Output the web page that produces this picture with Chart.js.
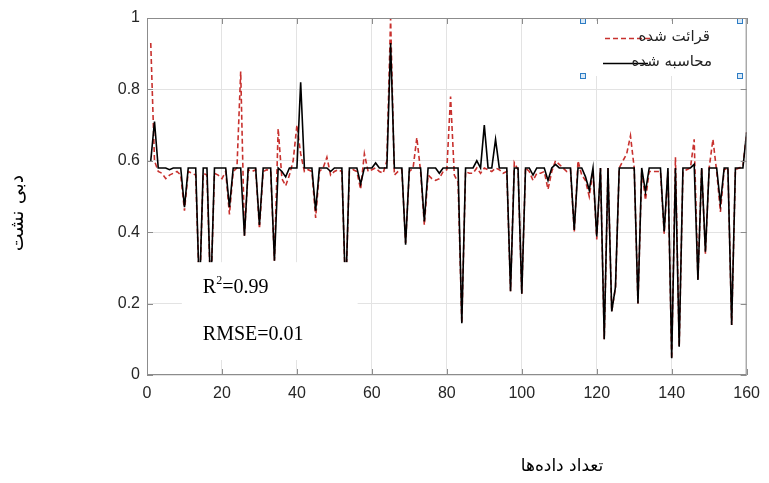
<!DOCTYPE html>
<html>
<head>
<meta charset="utf-8">
<script src="https://cdn.jsdelivr.net/npm/chart.js@4.4.1/dist/chart.umd.min.js"></script>
<style>
  html, body { margin: 0; padding: 0; background: #fff; }
  canvas { display: block; }
</style>
</head>
<body>
<canvas id="chart" width="769" height="483"></canvas>
<script>
// sample number (x) for each reading
const sampleNo = Array.from({ length: 160 }, (_, i) => i + 1);

const measured = [
  0.93, 0.60, 0.57, 0.565, 0.55, 0.56, 0.565, 0.57, 0.56, 0.46,
  0.57, 0.565, 0.56, 0.22, 0.565, 0.56, 0.22, 0.565, 0.56, 0.55,
  0.57, 0.45, 0.57, 0.58, 0.85, 0.39, 0.575, 0.57, 0.575, 0.41,
  0.57, 0.575, 0.57, 0.32, 0.69, 0.55, 0.53, 0.56, 0.60, 0.70,
  0.62, 0.57, 0.575, 0.57, 0.44, 0.57, 0.58, 0.61, 0.56, 0.57,
  0.575, 0.57, 0.22, 0.57, 0.575, 0.57, 0.52, 0.62, 0.57, 0.575,
  0.58, 0.57, 0.565, 0.60, 1.0, 0.56, 0.57, 0.575, 0.37, 0.57,
  0.58, 0.665, 0.57, 0.42, 0.56, 0.55, 0.545, 0.55, 0.57, 0.575,
  0.78, 0.56, 0.54, 0.145, 0.57, 0.565, 0.565, 0.58, 0.565, 0.58,
  0.575, 0.57, 0.58, 0.575, 0.565, 0.57, 0.235, 0.595, 0.575, 0.228,
  0.58, 0.57, 0.545, 0.565, 0.565, 0.57, 0.52, 0.57, 0.60, 0.59,
  0.58, 0.57, 0.575, 0.40, 0.60, 0.56, 0.545, 0.50, 0.57, 0.38,
  0.58, 0.10, 0.58, 0.178, 0.245, 0.58, 0.60, 0.62, 0.67, 0.58,
  0.20, 0.575, 0.49, 0.57, 0.57, 0.57, 0.57, 0.396, 0.57, 0.045,
  0.61, 0.079, 0.57, 0.575, 0.58, 0.66, 0.266, 0.58, 0.34, 0.58,
  0.66, 0.57, 0.457, 0.575, 0.58, 0.14, 0.575, 0.58, 0.585, 0.68
];

// calculated values (black solid)
const calculated = [
  0.60, 0.71, 0.58, 0.58, 0.58, 0.575, 0.58, 0.58, 0.58, 0.47,
  0.58, 0.58, 0.58, 0.22, 0.58, 0.58, 0.22, 0.58, 0.58, 0.58,
  0.58, 0.47, 0.58, 0.58, 0.58, 0.39, 0.58, 0.58, 0.58, 0.42,
  0.58, 0.58, 0.58, 0.32, 0.58, 0.57, 0.555, 0.58, 0.58, 0.58,
  0.82, 0.58, 0.58, 0.58, 0.46, 0.58, 0.58, 0.58, 0.57, 0.58,
  0.58, 0.58, 0.22, 0.58, 0.58, 0.58, 0.535, 0.58, 0.58, 0.58,
  0.594, 0.58, 0.58, 0.58, 0.93, 0.58, 0.58, 0.58, 0.365, 0.58,
  0.58, 0.58, 0.58, 0.43, 0.58, 0.58, 0.58, 0.565, 0.58, 0.58,
  0.58, 0.58, 0.58, 0.145, 0.58, 0.58, 0.58, 0.60, 0.58, 0.70,
  0.58, 0.58, 0.66, 0.58, 0.58, 0.58, 0.235, 0.58, 0.58, 0.228,
  0.58, 0.58, 0.56, 0.58, 0.58, 0.58, 0.545, 0.58, 0.59, 0.58,
  0.58, 0.58, 0.58, 0.406, 0.58, 0.58, 0.555, 0.518, 0.58, 0.388,
  0.58, 0.10, 0.58, 0.178, 0.247, 0.58, 0.58, 0.58, 0.58, 0.58,
  0.20, 0.58, 0.513, 0.58, 0.58, 0.58, 0.58, 0.402, 0.58, 0.047,
  0.58, 0.079, 0.58, 0.58, 0.58, 0.59, 0.266, 0.58, 0.345, 0.58,
  0.58, 0.58, 0.48, 0.58, 0.58, 0.14, 0.58, 0.58, 0.58, 0.68
];

const xTicks = [0, 20, 40, 60, 80, 100, 120, 140, 160];
const yTicks = [0, 0.2, 0.4, 0.6, 0.8, 1];

const seriesNames = ['محاسبه شده', 'قرائت شده'];
const xTitle = 'تعداد داده‌ها';
const yTitle = 'دبی نشت';
const statsLines = ['R', '2', '=0.99', 'RMSE=0.01'];

const axisGray = '#8c8c8c';
const redDash = '#c8312e';
const persianFont = '"DejaVu Sans", sans-serif';

// white text box, legend box, axis box, inside ticks and axis titles
const overlay = {
  id: 'overlay',
  afterDatasetsDraw(chart) {
    const { ctx, chartArea: a, scales: { x, y } } = chart;
    ctx.save();

    // stats box covering the lower-left part of the plot
    const bx0 = x.getPixelForValue(9.3), bx1 = x.getPixelForValue(56.2);
    const by0 = y.getPixelForValue(0.316), by1 = y.getPixelForValue(0.042);
    ctx.fillStyle = '#fff';
    ctx.fillRect(bx0, by0, bx1 - bx0, by1 - by0);

    ctx.fillStyle = '#000';
    ctx.textBaseline = 'alphabetic';
    ctx.textAlign = 'left';
    ctx.font = '20px "Liberation Serif", serif';
    let tx = bx0 + 21, ty = by0 + 31;
    ctx.fillText(statsLines[0], tx, ty);
    tx += ctx.measureText(statsLines[0]).width;
    ctx.font = '12px "Liberation Serif", serif';
    ctx.fillText(statsLines[1], tx, ty - 9);
    tx += ctx.measureText(statsLines[1]).width;
    ctx.font = '20px "Liberation Serif", serif';
    ctx.fillText(statsLines[2], tx, ty);
    ctx.fillText(statsLines[3], bx0 + 21, ty + 47);

    // legend box
    const lx0 = 583, lx1 = 740, ly0 = 21, ly1 = 76;
    ctx.fillStyle = '#fff';
    ctx.fillRect(lx0, ly0, lx1 - lx0, ly1 - ly0);

    ctx.lineWidth = 1.6;
    ctx.strokeStyle = redDash;
    ctx.setLineDash([5, 3]);
    ctx.beginPath(); ctx.moveTo(605, 38.5); ctx.lineTo(651, 38.5); ctx.stroke();
    ctx.setLineDash([]);
    ctx.strokeStyle = '#000';
    ctx.beginPath(); ctx.moveTo(603, 63.5); ctx.lineTo(648, 63.5); ctx.stroke();

    ctx.fillStyle = '#222';
    ctx.font = '15px ' + persianFont;
    ctx.textAlign = 'right';
    ctx.textBaseline = 'middle';
    ctx.fillText(seriesNames[1], 710, 37);
    ctx.fillText(seriesNames[0], 712, 62);

    // selection handles
    ctx.lineWidth = 1;
    [[lx0, ly0], [lx1, ly0], [lx0, ly1], [lx1, ly1]].forEach(([hx, hy]) => {
      ctx.fillStyle = '#d9e9f7';
      ctx.fillRect(hx - 3, hy - 3, 6, 6);
      ctx.strokeStyle = '#2d7cc4';
      ctx.strokeRect(hx - 2.5, hy - 2.5, 5, 5);
    });

    // axes box with inside ticks
    ctx.strokeStyle = axisGray;
    ctx.lineWidth = 1;
    ctx.strokeRect(a.left + 0.5, a.top + 0.5, a.right - a.left - 1, a.bottom - a.top - 1);
    ctx.beginPath();
    xTicks.forEach(v => {
      const px = Math.round(x.getPixelForValue(v)) + 0.5;
      ctx.moveTo(px, a.bottom); ctx.lineTo(px, a.bottom - 6);
      ctx.moveTo(px, a.top); ctx.lineTo(px, a.top + 6);
    });
    yTicks.forEach(v => {
      const py = Math.round(y.getPixelForValue(v)) + 0.5;
      ctx.moveTo(a.left, py); ctx.lineTo(a.left + 6, py);
      ctx.moveTo(a.right, py); ctx.lineTo(a.right - 6, py);
    });
    ctx.stroke();

    // axis titles (both sit off-centre in the original)
    ctx.fillStyle = '#000';
    ctx.font = '17px ' + persianFont;
    ctx.textAlign = 'center';
    ctx.textBaseline = 'middle';
    ctx.fillText(xTitle, 562, 467);

    ctx.translate(18, 213);
    ctx.rotate(-Math.PI / 2);
    ctx.font = '19px ' + persianFont;
    ctx.fillText(yTitle, 0, 0);

    ctx.restore();
  }
};

const tickFont = { family: '"Liberation Sans", Arial, sans-serif', size: 16 };

new Chart(document.getElementById('chart'), {
  type: 'line',
  data: {
    labels: sampleNo,
    datasets: [
      {
        label: seriesNames[0],
        data: calculated,
        borderColor: '#000',
        borderWidth: 1.6,
        pointRadius: 0,
        tension: 0,
        order: 0
      },
      {
        label: seriesNames[1],
        data: measured,
        borderColor: redDash,
        borderWidth: 1.6,
        borderDash: [5, 3],
        pointRadius: 0,
        tension: 0,
        order: 1
      }
    ]
  },
  options: {
    responsive: false,
    animation: false,
    layout: { padding: { top: 18, right: 21, left: 0, bottom: 0 } },
    plugins: { legend: { display: false }, tooltip: { enabled: false } },
    scales: {
      x: {
        type: 'linear',
        min: 0,
        max: 160,
        afterBuildTicks: s => { s.ticks = xTicks.map(v => ({ value: v })); },
        afterFit: s => { s.height = 108; },
        grid: { color: '#e3e3e3', drawTicks: false },
        border: { display: false },
        ticks: { font: tickFont, color: '#262626', padding: 9, maxRotation: 0 }
      },
      y: {
        min: 0,
        max: 1,
        afterBuildTicks: s => { s.ticks = yTicks.map(v => ({ value: v })); },
        afterFit: s => { s.width = 147; },
        grid: { color: '#e3e3e3', drawTicks: false },
        border: { display: false },
        ticks: {
          font: tickFont,
          color: '#262626',
          padding: 7,
          callback: v => String(Math.round(v * 10) / 10)
        }
      }
    }
  },
  plugins: [overlay]
});
</script>
</body>
</html>
